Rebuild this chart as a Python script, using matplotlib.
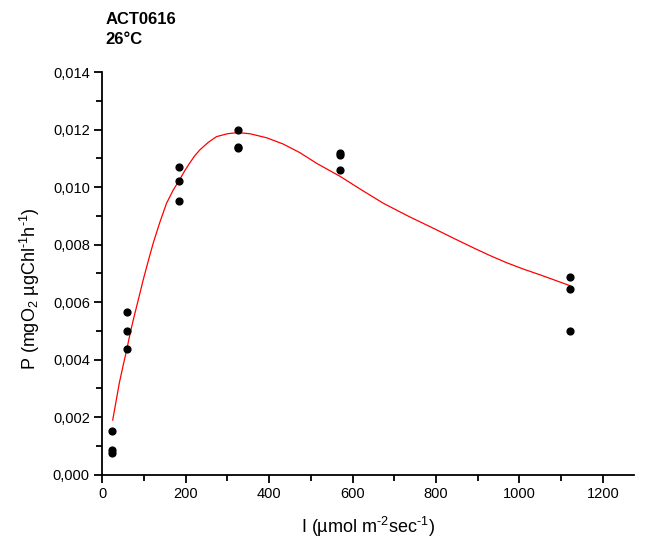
import matplotlib
matplotlib.use("Agg")
import matplotlib.pyplot as plt
from matplotlib.ticker import MultipleLocator, FuncFormatter

plt.rcParams['font.family'] = ['Liberation Sans', 'DejaVu Sans']
plt.rcParams['mathtext.fontset'] = 'custom'
plt.rcParams['mathtext.rm'] = 'Liberation Sans'
plt.rcParams['mathtext.it'] = 'Liberation Sans'
plt.rcParams['mathtext.default'] = 'regular'

# measured points
light = [24, 24, 24, 58.5, 58.5, 58.5, 185, 185, 185, 325, 325, 325, 571, 571, 571, 1122, 1122, 1122]
prod = [0.00153, 0.00086, 0.00077,
        0.00567, 0.00500, 0.00438,
        0.01071, 0.01020, 0.00953,
        0.01199, 0.01141, 0.01136,
        0.01120, 0.01111, 0.01060,
        0.00689, 0.00647, 0.00500]

# fitted curve
fit_x = [25, 33, 41, 50, 58.5, 68, 78, 88, 98, 110, 122, 138, 154, 170, 185, 198, 210,
         222, 234, 254, 274, 300, 325, 354, 394, 434, 474, 514, 571, 620, 674, 734,
         794, 850, 890, 930, 970, 1010, 1050, 1090, 1122]
fit_y = [0.0019, 0.00255, 0.0032, 0.0038, 0.00434, 0.0050, 0.0056, 0.00618, 0.00677,
         0.00742, 0.00805, 0.00878, 0.00944, 0.00990, 0.01025, 0.01058, 0.01085,
         0.01110, 0.01130, 0.01156, 0.01176, 0.01186, 0.0119, 0.01186, 0.01172, 0.01150,
         0.01120, 0.01083, 0.01037, 0.00992, 0.00944, 0.00899, 0.00857, 0.00817,
         0.00789, 0.00762, 0.00737, 0.00715, 0.00695, 0.00674, 0.00657]

fig = plt.figure(figsize=(6.49, 5.41), dpi=100)
ax = fig.add_axes([0.1576, 0.1226, 0.8194, 0.7439])

ax.plot(fit_x, fit_y, color='red', lw=0.9, zorder=2)
ax.scatter(light, prod, s=24, color='black', zorder=3)

ax.set_xlim(0, 1275)
ax.set_ylim(0, 0.014)
ax.xaxis.set_major_locator(MultipleLocator(200))
ax.xaxis.set_minor_locator(MultipleLocator(100))
ax.yaxis.set_major_locator(MultipleLocator(0.002))
ax.yaxis.set_minor_locator(MultipleLocator(0.001))
ax.yaxis.set_major_formatter(FuncFormatter(lambda v, p: ('%.3f' % v).replace('.', ',')))

for s in ['top', 'right']:
    ax.spines[s].set_visible(False)
for s in ['left', 'bottom']:
    ax.spines[s].set_linewidth(1.3)
ax.tick_params(which='major', direction='out', length=6, width=1.3, labelsize=10.5, colors='black', pad=3)
ax.tick_params(which='minor', direction='out', length=4, width=1.3)

ax.set_xlabel(r'I (µmol m$^{\text{-2}}$sec$^{\text{-1}}$)', fontsize=13, labelpad=10)
ax.set_ylabel(r'P (mgO$_2$ µgChl$^{\text{-1}}$h$^{\text{-1}}$)', fontsize=13)
ax.yaxis.set_label_coords(-0.114, 0.463)

fig.text(0.162, 0.978, 'ACT0616\n26°C', fontsize=12, fontweight='bold', va='top', ha='left', linespacing=1.45)

fig.savefig('out.png', dpi=100)
